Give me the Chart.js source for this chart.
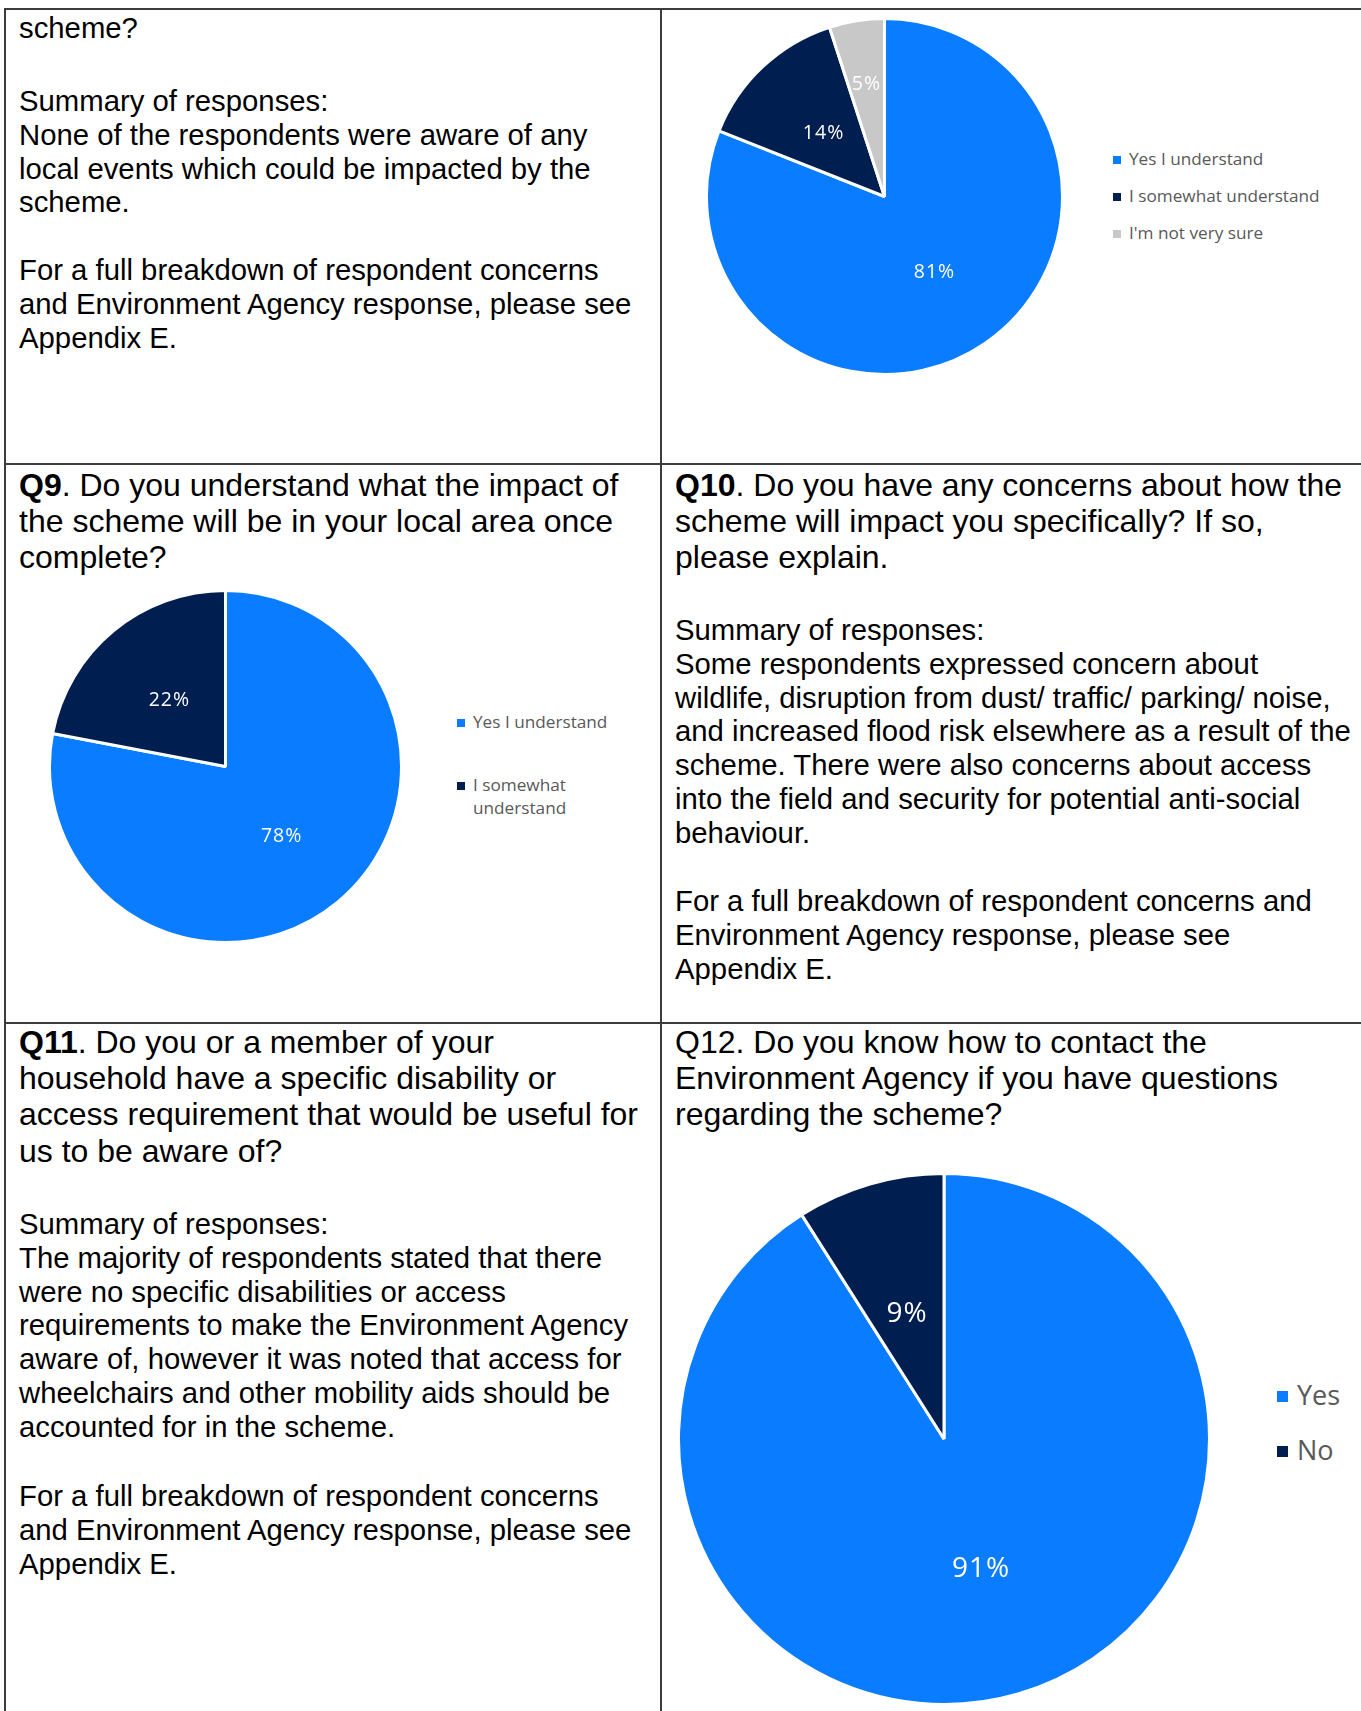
<!DOCTYPE html>
<html>
<head>
<meta charset="utf-8">
<script src="https://cdn.jsdelivr.net/npm/chart.js@4.4.0/dist/chart.umd.min.js"></script>
<style>
  html, body { margin:0; padding:0; background:#fff; }
  #page { position:relative; width:1361px; height:1711px; overflow:hidden; font-family:"Liberation Sans", Arial, sans-serif; color:#000; }
  .hl { position:absolute; height:2px; background:#3c3c3c; }
  .vl { position:absolute; width:2px; background:#3c3c3c; }
  .txt { position:absolute; white-space:nowrap; font-size:29.3px; line-height:33.8px; }
  .q { position:absolute; white-space:nowrap; font-size:32px; line-height:36.2px; }
  canvas { position:absolute; }
  .legend { position:absolute; font-family:"Open Sans", sans-serif; color:#595959; }
  .legend .item { display:flex; align-items:flex-start; }
  .legend .box { flex:none; }
</style>
</head>
<body>
<div id="page">
  <!-- table rules -->
  <div class="hl" style="left:5px; top:8px; width:1356px"></div>
  <div class="hl" style="left:5px; top:463px; width:1356px"></div>
  <div class="hl" style="left:5px; top:1022px; width:1356px"></div>
  <div class="vl" style="left:4px; top:8px; height:1703px"></div>
  <div class="vl" style="left:660px; top:8px; height:1703px"></div>

  <!-- row 1, left -->
  <div class="txt" style="left:19px; top:11px">scheme?</div>
  <div class="txt" style="left:19px; top:84px">Summary of responses:<br>None of the respondents were aware of any<br>local events which could be impacted by the<br>scheme.</div>
  <div class="txt" style="left:19px; top:253px">For a full breakdown of respondent concerns<br>and Environment Agency response, please see<br>Appendix E.</div>

  <!-- row 2 -->
  <div class="q" style="left:19px; top:467px"><b>Q9</b>. Do you understand what the impact of<br>the scheme will be in your local area once<br>complete?</div>
  <div class="q" style="left:675px; top:467px"><b>Q10</b>. Do you have any concerns about how the<br>scheme will impact you specifically? If so,<br>please explain.</div>
  <div class="txt" style="left:675px; top:613px">Summary of responses:<br>Some respondents expressed concern about<br>wildlife, disruption from dust/ traffic/ parking/ noise,<br>and increased flood risk elsewhere as a result of the<br>scheme. There were also concerns about access<br>into the field and security for potential anti-social<br>behaviour.</div>
  <div class="txt" style="left:675px; top:884px">For a full breakdown of respondent concerns and<br>Environment Agency response, please see<br>Appendix E.</div>

  <!-- row 3 -->
  <div class="q" style="left:19px; top:1024px"><b>Q11</b>. Do you or a member of your<br>household have a specific disability or<br>access requirement that would be useful for<br>us to be aware of?</div>
  <div class="txt" style="left:19px; top:1207px">Summary of responses:<br>The majority of respondents stated that there<br>were no specific disabilities or access<br>requirements to make the Environment Agency<br>aware of, however it was noted that access for<br>wheelchairs and other mobility aids should be<br>accounted for in the scheme.</div>
  <div class="txt" style="left:19px; top:1479px">For a full breakdown of respondent concerns<br>and Environment Agency response, please see<br>Appendix E.</div>
  <div class="q" style="left:675px; top:1024px">Q12. Do you know how to contact the<br>Environment Agency if you have questions<br>regarding the scheme?</div>

  <canvas id="pieQ8" width="359" height="359" style="left:705px; top:17px"></canvas>
  <div id="legQ8" class="legend"></div>
  <canvas id="pieQ9" width="355" height="355" style="left:48px; top:589px"></canvas>
  <div id="legQ9" class="legend"></div>
  <canvas id="pieQ12" width="534" height="534" style="left:677px; top:1172px"></canvas>
  <div id="legQ12" class="legend"></div>
</div>

<script>
// understanding of the scheme (pie at top right)
const q8Labels = ['Yes I understand', 'I somewhat understand', "I'm not very sure"];
const q8Values = [81, 14, 5];
// Q9
const q9Labels = ['Yes I understand', 'I somewhat understand'];
const q9Values = [78, 22];
// Q12
const q12Labels = ['Yes', 'No'];
const q12Values = [91, 9];

const sliceColours = ['#0a7cff', '#001e50', '#c8c8c8'];

// writes "NN%" inside each slice
const sliceLabels = {
  id: 'sliceLabels',
  afterDatasetsDraw(chart, args, opts){
    const { ctx } = chart;
    const values = chart.data.datasets[0].data;
    ctx.save();
    ctx.fillStyle = opts.color || '#fff';
    ctx.font = opts.font;
    ctx.letterSpacing = opts.spacing || '0px';
    ctx.textAlign = 'center';
    ctx.textBaseline = 'middle';
    chart.getDatasetMeta(0).data.forEach((arc, i)=>{
      const p = arc.getProps(['x','y','startAngle','endAngle','outerRadius'], true);
      const mid = (p.startAngle + p.endAngle) / 2;
      const f = (opts.radius && opts.radius[i]) || 0.5;
      ctx.fillText(values[i] + '%', p.x + Math.cos(mid)*p.outerRadius*f, p.y + Math.sin(mid)*p.outerRadius*f + (opts.dy || 0));
    });
    ctx.restore();
  }
};

function buildPie(id, labels, values, labelOpts){
  return new Chart(document.getElementById(id), {
    type: 'pie',
    data: { labels, datasets:[{ data: values, backgroundColor: sliceColours.slice(0, values.length), borderColor:'#fff', borderWidth:3 }] },
    options: {
      responsive:false, animation:false,
      layout:{ padding:0 },
      plugins:{ legend:{ display:false }, tooltip:{ enabled:false }, sliceLabels: labelOpts }
    },
    plugins:[sliceLabels]
  });
}

function buildLegend(id, labels, o){
  const el = document.getElementById(id);
  el.style.left = o.x + 'px';
  el.style.top = o.y + 'px';
  if (o.maxWidth) el.style.width = o.maxWidth + 'px';
  labels.forEach((lab, i)=>{
    const it = document.createElement('div');
    it.className = 'item';
    it.style.marginBottom = o.gap + 'px';
    it.style.fontSize = o.size + 'px';
    it.style.lineHeight = o.line + 'px';
    const b = document.createElement('span');
    b.className = 'box';
    b.style.width = b.style.height = o.box + 'px';
    b.style.background = sliceColours[i];
    b.style.marginTop = ((o.line - o.box)/2 + 1) + 'px';
    b.style.marginRight = o.textGap + 'px';
    const t = document.createElement('span');
    t.textContent = lab;
    it.appendChild(b); it.appendChild(t);
    el.appendChild(it);
  });
}

buildPie('pieQ8', q8Labels, q8Values, { font:'19.5px "Open Sans"', spacing:'1px', radius:[0.5, 0.5, 0.65], dy:2 });
buildPie('pieQ9', q9Labels, q9Values, { font:'19.5px "Open Sans"', spacing:'1px', dy:2 });
buildPie('pieQ12', q12Labels, q12Values, { font:'28px "Open Sans"', spacing:'1px', dy:3 });

buildLegend('legQ8', q8Labels, { x:1113, y:148, gap:15, size:17.2, line:22, box:8, textGap:8 });
buildLegend('legQ9', q9Labels, { x:457, y:711, gap:41, size:17.2, line:22.3, box:8, textGap:8, maxWidth:170 });
buildLegend('legQ12', q12Labels, { x:1277, y:1378, gap:21, size:27, line:34, box:11, textGap:9 });
</script>
</body>
</html>
